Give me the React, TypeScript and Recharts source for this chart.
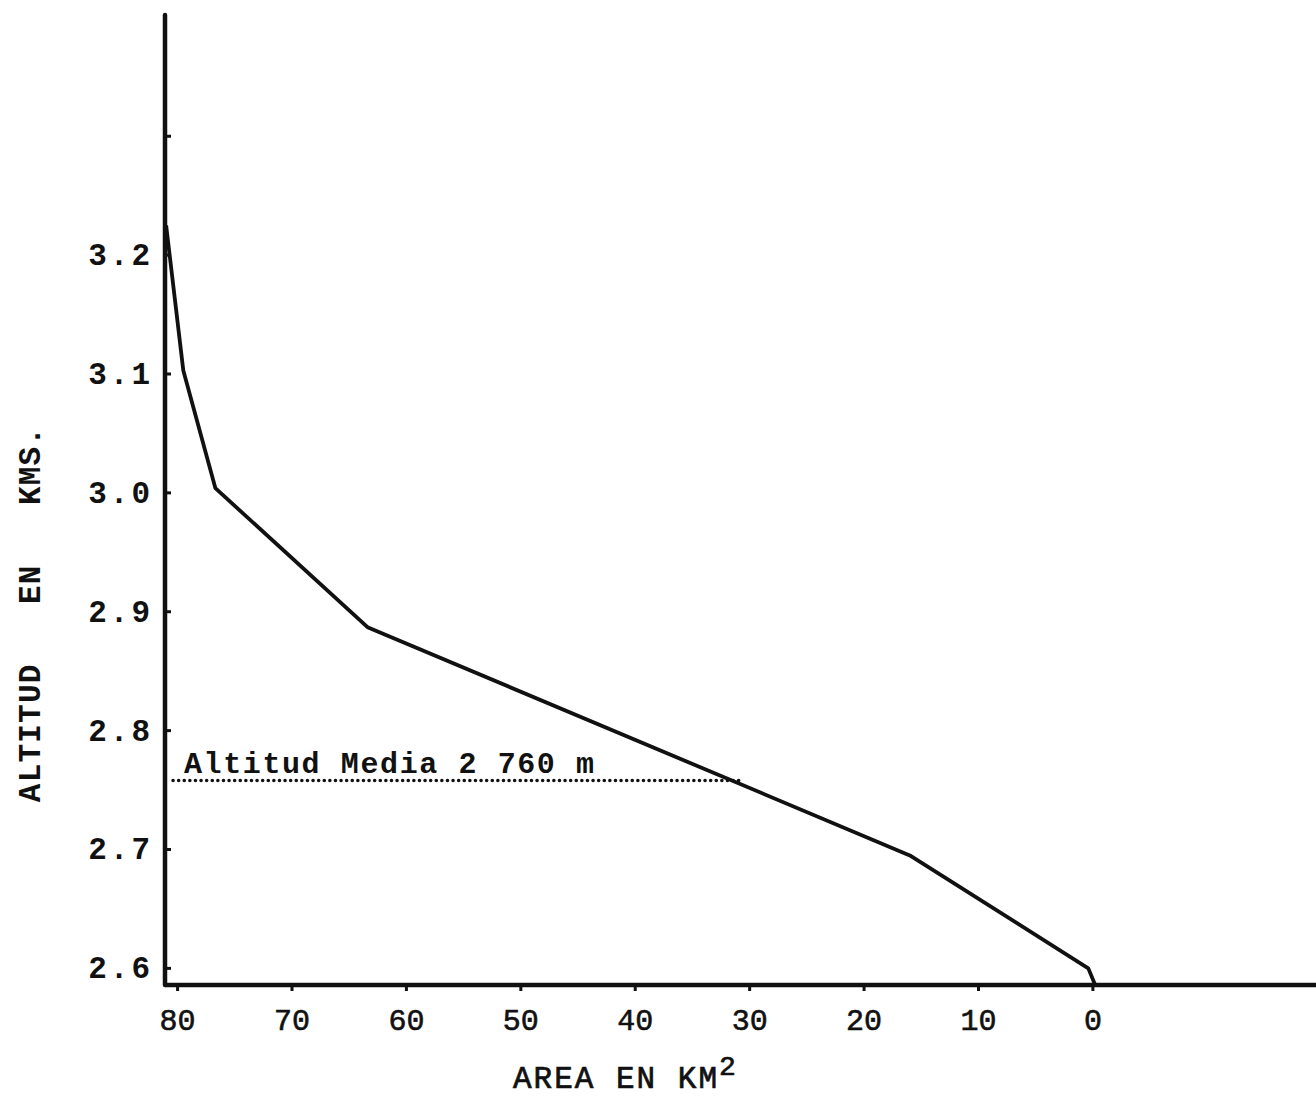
import React from "react";
import { LineChart, Line, XAxis, YAxis } from "recharts";

// hypsometric curve: area (km2) above each altitude (km)
const areaKm2 = [81.0, 79.5, 76.7, 63.4, 16.0, 0.4, -0.2];
const altitudeKm = [3.225, 3.103, 3.004, 2.887, 2.695, 2.6, 2.586];

// mean altitude line
const meanAltitude = 2.758;
const meanLineArea = [80.4, 30.5];

const xTicks = [80, 70, 60, 50, 40, 30, 20, 10, 0];
const yTicks = [2.6, 2.7, 2.8, 2.9, 3.0, 3.1, 3.2, 3.3];
const yTickLabels = ["2.6", "2.7", "2.8", "2.9", "3.0", "3.1", "3.2", ""];

const curve = areaKm2.map((a, i) => ({ area: a, alt: altitudeKm[i] }));
const meanLine = meanLineArea.map((a) => ({ area: a, alt: meanAltitude }));

const FONT = "'Liberation Mono', 'DejaVu Sans Mono', monospace";
const INK = "#111";

const YTick = (props: any) => {
  const { x, y, index } = props;
  return (
    <g>
      <line x1={x} y1={y} x2={x + 6} y2={y} stroke={INK} strokeWidth={3} />
      <text
        x={x - 12}
        y={y + 10}
        textAnchor="end"
        fontFamily={FONT}
        fontSize={31}
        fontWeight="bold"
        letterSpacing={3}
        fill={INK}
      >
        {yTickLabels[index]}
      </text>
    </g>
  );
};

const XTick = (props: any) => {
  const { x, y, payload } = props;
  return (
    <g>
      <line x1={x} y1={y} x2={x} y2={y + 6} stroke={INK} strokeWidth={3} />
      <text
        x={x}
        y={y + 45}
        textAnchor="middle"
        fontFamily={FONT}
        fontSize={30}
        fill={INK}
        stroke={INK}
        strokeWidth={0.6}
      >
        {payload.value}
      </text>
    </g>
  );
};

const YLabel = (props: any) => {
  const vb = props.viewBox;
  const cx = vb.x + 31;
  const cy = 614;
  return (
    <text
      x={cx}
      y={cy}
      transform={`rotate(-90, ${cx}, ${cy})`}
      textAnchor="middle"
      dominantBaseline="central"
      fontFamily={FONT}
      fontSize={31}
      fontWeight="bold"
      letterSpacing={1.2}
      fill={INK}
      style={{ whiteSpace: "pre" }}
    >
      {"ALTITUD   EN   KMS."}
    </text>
  );
};

const XLabel = (props: any) => {
  const vb = props.viewBox;
  return (
    <text
      x={vb.x + 348}
      y={vb.y + 103}
      fontFamily={FONT}
      fontSize={31}
      letterSpacing={2}
      fill={INK}
      stroke={INK}
      strokeWidth={0.7}
      style={{ whiteSpace: "pre" }}
    >
      AREA EN KM
      <tspan dy={-13} fontSize={28} letterSpacing={0}>
        2
      </tspan>
    </text>
  );
};

export default function App() {
  return (
    <div style={{ width: 1316, height: 1097, background: "#fff" }}>
      <style>{`body{margin:0;}`}</style>
      <LineChart
        width={1316}
        height={1097}
        margin={{ top: 15, right: 0, bottom: 0, left: 0 }}
      >
        <XAxis
          type="number"
          dataKey="area"
          domain={[-19.5, 81.1]}
          allowDataOverflow
          reversed
          ticks={xTicks}
          interval={0}
          height={112}
          tickSize={0}
          tickMargin={0}
          tickLine={false}
          tick={<XTick />}
          axisLine={{ stroke: INK, strokeWidth: 4.5 }}
          label={<XLabel />}
        />
        <YAxis
          type="number"
          dataKey="alt"
          domain={[2.586, 3.402]}
          allowDataOverflow
          ticks={yTicks}
          interval={0}
          width={165}
          tickSize={0}
          tickMargin={0}
          tickLine={false}
          tick={<YTick />}
          axisLine={{ stroke: INK, strokeWidth: 4.5, strokeLinecap: "round" }}
          label={<YLabel />}
        />
        <Line
          data={meanLine}
          dataKey="alt"
          type="linear"
          stroke={INK}
          strokeWidth={3.5}
          strokeDasharray="0.1 5.5"
          strokeLinecap="round"
          dot={false}
          activeDot={false}
          isAnimationActive={false}
          label={(p: any) =>
            p.index === 0 ? (
              <text
                key="mean-label"
                x={p.x + 11}
                y={p.y - 8}
                fontFamily={FONT}
                fontSize={30}
                fontWeight="bold"
                letterSpacing={1.6}
                fill={INK}
                style={{ whiteSpace: "pre" }}
              >
                Altitud Media 2 760 m
              </text>
            ) : (
              <g key={`e${p.index}`} />
            )
          }
        />
        <Line
          data={curve}
          dataKey="alt"
          type="linear"
          stroke={INK}
          strokeWidth={3.8}
          strokeLinejoin="round"
          dot={false}
          activeDot={false}
          isAnimationActive={false}
        />
      </LineChart>
    </div>
  );
}
